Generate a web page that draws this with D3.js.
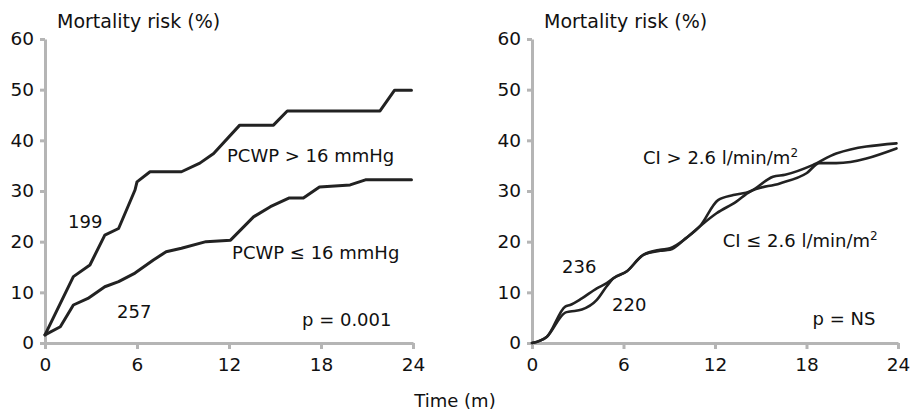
<!DOCTYPE html>
<html>
<head>
<meta charset="utf-8">
<script src="https://cdn.jsdelivr.net/npm/d3@7"></script>
<style>
  body { margin: 0; background: #fff; }
  text { font-family: "DejaVu Sans", sans-serif; fill: #111; }
</style>
</head>
<body>
<div id="my_dataviz"></div>
<script>
//Datos (meses, riesgo %)
var meses_pcwpAlto  = [0, 1.85, 2.93, 3.9, 4.8, 5.87, 6.0, 6.85, 8.9, 10.1, 11, 12.7, 14.9, 15.8, 21.85, 22.8, 23.9];
var riesgo_pcwpAlto = [1.6, 13.1, 15.4, 21.3, 22.6, 30.2, 31.8, 33.8, 33.8, 35.5, 37.4, 43, 43, 45.8, 45.8, 49.9, 49.9];

var meses_pcwpBajo  = [0, 1, 1.85, 2.8, 3.9, 4.8, 5.87, 7.07, 7.9, 8.9, 10.5, 12.1, 13.6, 14.7, 15.9, 16.85, 17.9, 19.9, 20.9, 23.9];
var riesgo_pcwpBajo = [1.6, 3.2, 7.5, 8.8, 11.1, 12.1, 13.8, 16.4, 18, 18.7, 20, 20.3, 24.9, 26.9, 28.6, 28.6, 30.8, 31.2, 32.2, 32.2];

var meses_ciAlto  = [0, 0.98, 2.18, 2.5, 3.27, 4.25, 4.9, 5.35, 6.2, 7.3, 8.4, 9.05, 10.1, 11.0, 12.2, 13.2, 14.3, 15.8, 16.6, 18.4, 19.95, 23.9];
var riesgo_ciAlto = [0, 1.25, 7.2, 7.5, 8.8, 10.8, 11.8, 12.8, 14.1, 17.4, 18.4, 18.7, 20.7, 23, 28.2, 29.2, 29.9, 32.8, 33.2, 35.1, 37.4, 39.4];

var meses_ciBajo  = [0, 0.98, 2.18, 2.5, 3.27, 4.25, 4.9, 5.35, 6.2, 7.3, 8.4, 9.05, 10.1, 11.0, 12.1, 13.4, 14.3, 16.25, 18.0, 18.85, 19.95, 23.9];
var riesgo_ciBajo = [0, 1.25, 6.0, 6.2, 6.6, 8.5, 11.2, 12.8, 14.1, 17.4, 18.2, 18.4, 20.7, 23, 25.6, 27.9, 29.9, 31.5, 33.5, 35.5, 35.5, 38.4];

var ticks_x = [0, 6, 12, 18, 24];
var ticks_y = [0, 10, 20, 30, 40, 50, 60];

var titulo_y = "Mortality risk (%)";
var titulo_x = "Time (m)";

//Etiquetas de cada panel
var textos_izq = ["199", "257", "PCWP > 16 mmHg", "PCWP \u2264 16 mmHg", "p = 0.001"];
var textos_der = ["236", "220", "CI > 2.6 l/min/m", "CI \u2264 2.6 l/min/m", "p = NS"];

function unir(meses, riesgo) {
    return meses.map(function (m, i) { return {x: m, y: riesgo[i]}; });
}

var svg = d3.select("#my_dataviz")
        .append("svg")
        .attr("width", 911)
        .attr("height", 411);

function panel(x0, x1, series, curva, grosor, etiquetas) {
    var x = d3.scaleLinear().domain([0, 24]).range([x0, x1]);
    var y = d3.scaleLinear().domain([0, 60]).range([343, 39]);

    var ejeY = svg.append("g")
            .attr("transform", "translate(" + x0 + ",0)")
            .call(d3.axisLeft(y).tickValues(ticks_y).tickSize(5).tickSizeOuter(0).tickPadding(6));
    var ejeX = svg.append("g")
            .attr("transform", "translate(0,343)")
            .call(d3.axisBottom(x).tickValues(ticks_x).tickSize(6).tickSizeOuter(0).tickPadding(9));

    [ejeY, ejeX].forEach(function (e) {
        e.selectAll("path, line").attr("stroke", "#b5b5b5").attr("stroke-width", 3);
        e.selectAll("text").style("font-size", "18.5px").attr("fill", "#111");
    });

    svg.append("text")
        .attr("x", x0 + 12)
        .attr("y", 28)
        .style("font-size", "19px")
        .text(titulo_y);

    var linea = d3.line()
            .x(function (d) { return x(d.x); })
            .y(function (d) { return y(d.y); })
            .curve(curva);

    series.forEach(function (s) {
        svg.append("path")
            .attr("d", linea(s))
            .attr("fill", "none")
            .attr("stroke", "#222")
            .attr("stroke-width", grosor)
            .attr("stroke-linejoin", "round")
            .attr("stroke-linecap", "round");
    });

    etiquetas.forEach(function (e) {
        var t = svg.append("text")
                .attr("x", x(e.m))
                .attr("y", y(e.v))
                .style("font-size", "18px")
                .text(e.t);
        if (e.sup) {
            t.append("tspan").attr("dy", -7).style("font-size", "12px").text("2");
        }
    });
}

panel(45, 413,
    [unir(meses_pcwpAlto, riesgo_pcwpAlto), unir(meses_pcwpBajo, riesgo_pcwpBajo)],
    d3.curveLinear, 3,
    [
        {t: textos_izq[0], m: 1.5, v: 22.7},
        {t: textos_izq[1], m: 4.7, v: 4.9},
        {t: textos_izq[2], m: 11.87, v: 35.7},
        {t: textos_izq[3], m: 12.2, v: 16.6},
        {t: textos_izq[4], m: 16.76, v: 3.4}
    ]);

panel(532, 898,
    [unir(meses_ciAlto, riesgo_ciAlto), unir(meses_ciBajo, riesgo_ciBajo)],
    d3.curveMonotoneX, 2.6,
    [
        {t: textos_der[0], m: 1.97, v: 13.8},
        {t: textos_der[1], m: 5.25, v: 6.3},
        {t: textos_der[2], m: 7.28, v: 35.3, sup: true},
        {t: textos_der[3], m: 12.5, v: 18.9, sup: true},
        {t: textos_der[4], m: 18.4, v: 3.55}
    ]);

svg.append("text")
    .attr("x", 455)
    .attr("y", 407)
    .attr("text-anchor", "middle")
    .style("font-size", "18px")
    .text(titulo_x);
</script>
</body>
</html>
